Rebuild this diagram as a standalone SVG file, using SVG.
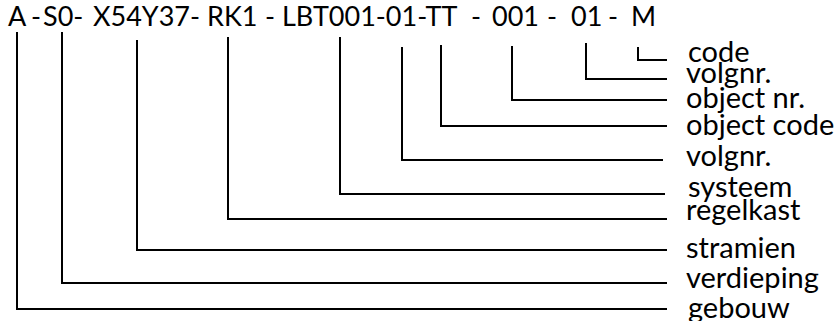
<svg xmlns="http://www.w3.org/2000/svg" width="839" height="321" viewBox="0 0 839 321">
  <style>
    .code { font-family: "Lato", "Noto Sans", sans-serif; font-size: 27px; fill: #000; }
    .lbl { font-family: "Lato", "Noto Sans", sans-serif; font-size: 29px; fill: #000; }
    .ln { fill: none; stroke: #000; stroke-width: 2; }
  </style>
  <rect width="839" height="321" fill="#fff"/>

  <!-- the coded identifier, one piece per segment -->
  <g id="code-string">
    <text class="code" y="26">
      <tspan x="8">A</tspan>
      <tspan x="31">-</tspan>
      <tspan x="43">S0-</tspan>
      <tspan x="93">X54Y37-</tspan>
      <tspan x="207">RK1</tspan>
      <tspan x="265">-</tspan>
      <tspan x="282">LBT001-01-TT</tspan>
      <tspan x="471">-</tspan>
      <tspan x="492">001</tspan>
      <tspan x="547">-</tspan>
      <tspan x="571">01</tspan>
      <tspan x="608">-</tspan>
      <tspan x="631">M</tspan>
    </text>
  </g>

  <!-- elbow leaders from each segment to its description -->
  <g id="connectors">
    <path class="ln" d="M638 47 V60 H667"/>
    <path class="ln" d="M586 43 V79 H667"/>
    <path class="ln" d="M512 46 V100 H667"/>
    <path class="ln" d="M441 45 V126 H667"/>
    <path class="ln" d="M402 47 V160 H663"/>
    <path class="ln" d="M340 37 V194 H665"/>
    <path class="ln" d="M228 37 V219 H667"/>
    <path class="ln" d="M137 40 V250 H667"/>
    <path class="ln" d="M62 32 V283 H667"/>
    <path class="ln" d="M17 32 V309 H667"/>
  </g>

  <g id="label-code"><text class="lbl" x="688" y="62">code</text></g>
  <g id="label-volgnr-2"><text class="lbl" x="686" y="83">volgnr.</text></g>
  <g id="label-object-nr"><text class="lbl" x="686" y="108">object nr.</text></g>
  <g id="label-object-code"><text class="lbl" x="686" y="135">object code</text></g>
  <g id="label-volgnr-1"><text class="lbl" x="686" y="166">volgnr.</text></g>
  <g id="label-systeem"><text class="lbl" x="688" y="197">systeem</text></g>
  <g id="label-regelkast"><text class="lbl" x="686" y="220">regelkast</text></g>
  <g id="label-stramien"><text class="lbl" x="686" y="258">stramien</text></g>
  <g id="label-verdieping"><text class="lbl" x="686" y="288">verdieping</text></g>
  <g id="label-gebouw"><text class="lbl" x="688" y="318">gebouw</text></g>
</svg>
